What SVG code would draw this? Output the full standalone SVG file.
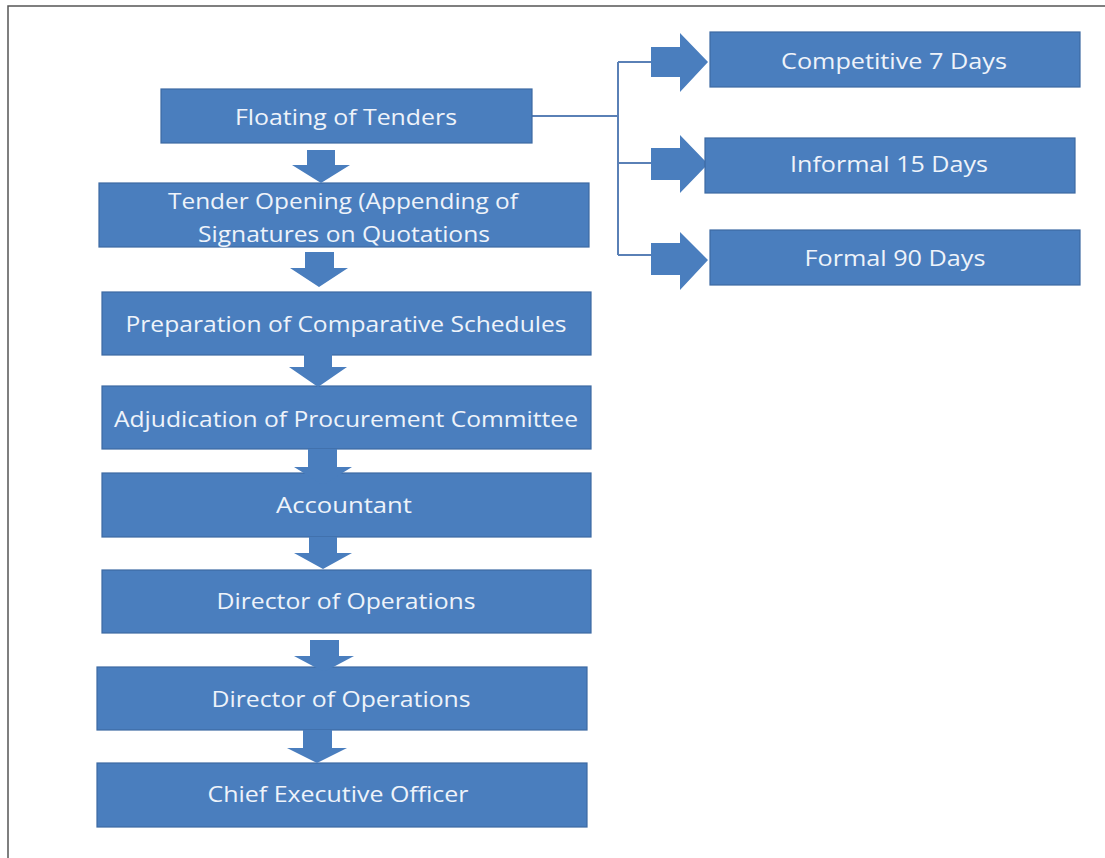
<svg xmlns="http://www.w3.org/2000/svg" width="1105" height="858" viewBox="0 0 1105 858">
<style>
.box{fill:#4a7ebe;stroke:#3c69a2;stroke-width:1.2}
.t{font-family:"Open Sans","Liberation Sans",sans-serif;font-size:22px;fill:#eef3fa;text-anchor:middle;dominant-baseline:central}
.arr{fill:#4a7ebe}
.con{fill:none;stroke:#5a80b6;stroke-width:2}
.frame{fill:none;stroke:#555;stroke-width:1.5}
</style>
<rect width="1105" height="858" fill="#ffffff"/>
<path class="frame" d="M8,858 V6 H1105"/>
<g id="connectors">
<path class="con" d="M532,116 H618 M618,62 V255 M618,62 H652 M618,163 H652 M618,255 H652"/>
<path class="arr" d="M651,47 H680 V33 L708,62 L680,92 V77 H651 Z"/>
<path class="arr" d="M651,148 H680 V135 L708,164 L680,193 V180 H651 Z"/>
<path class="arr" d="M651,243 H680 V232 L708,260 L680,290 V275 H651 Z"/>
</g>
<g id="n_floating"><rect class="box" x="161" y="89" width="371" height="54"/><text class="t" x="346" y="116" textLength="222" lengthAdjust="spacingAndGlyphs">Floating of Tenders</text></g>
<g id="n_opening"><rect class="box" x="99" y="183" width="490" height="64"/><text class="t" x="343" y="200" textLength="350" lengthAdjust="spacingAndGlyphs">Tender Opening (Appending of</text><text class="t" x="344" y="233" textLength="292" lengthAdjust="spacingAndGlyphs">Signatures on Quotations</text></g>
<g id="n_prep"><rect class="box" x="102" y="292" width="489" height="63"/><text class="t" x="346" y="323" textLength="441" lengthAdjust="spacingAndGlyphs">Preparation of Comparative Schedules</text></g>
<g id="n_adj"><rect class="box" x="102" y="386" width="489" height="63"/><text class="t" x="346" y="418" textLength="464" lengthAdjust="spacingAndGlyphs">Adjudication of Procurement Committee</text></g>
<g id="n_acc"><rect class="box" x="102" y="473" width="489" height="64"/><text class="t" x="344" y="504" textLength="136" lengthAdjust="spacingAndGlyphs">Accountant</text></g>
<g id="n_dir1"><rect class="box" x="102" y="570" width="489" height="63"/><text class="t" x="346" y="600" textLength="259" lengthAdjust="spacingAndGlyphs">Director of Operations</text></g>
<g id="n_dir2"><rect class="box" x="97" y="667" width="490" height="63"/><text class="t" x="341" y="698" textLength="259" lengthAdjust="spacingAndGlyphs">Director of Operations</text></g>
<g id="n_ceo"><rect class="box" x="97" y="763" width="490" height="64"/><text class="t" x="338" y="793" textLength="261" lengthAdjust="spacingAndGlyphs">Chief Executive Officer</text></g>
<g id="n_comp"><rect class="box" x="710" y="32" width="370" height="55"/><text class="t" x="894" y="60" textLength="226" lengthAdjust="spacingAndGlyphs">Competitive 7 Days</text></g>
<g id="n_inf"><rect class="box" x="705" y="138" width="370" height="55"/><text class="t" x="889" y="163" textLength="198" lengthAdjust="spacingAndGlyphs">Informal 15 Days</text></g>
<g id="n_formal"><rect class="box" x="710" y="230" width="370" height="55"/><text class="t" x="895" y="257" textLength="181" lengthAdjust="spacingAndGlyphs">Formal 90 Days</text></g>
<g id="down_arrows">
<path class="arr" d="M307,150 H335 V165 H350 L321,183 L292,165 H307 Z"/>
<path class="arr" d="M305,252 H334 V268 H348 L319,287 L290,268 H305 Z"/>
<path class="arr" d="M304,352 H332 V367 H347 L318,387 L289,367 H304 Z"/>
<path class="arr" d="M308,449 H337 V467 H352 L323,485 L294,467 H308 Z"/>
<path class="arr" d="M309,537 H337 V553 H352 L323,569 L294,553 H309 Z"/>
<path class="arr" d="M310,640 H339 V656 H354 L324,672 L294,656 H310 Z"/>
<path class="arr" d="M303,730 H332 V748 H347 L317,763 L287,748 H303 Z"/>
</g>
</svg>
